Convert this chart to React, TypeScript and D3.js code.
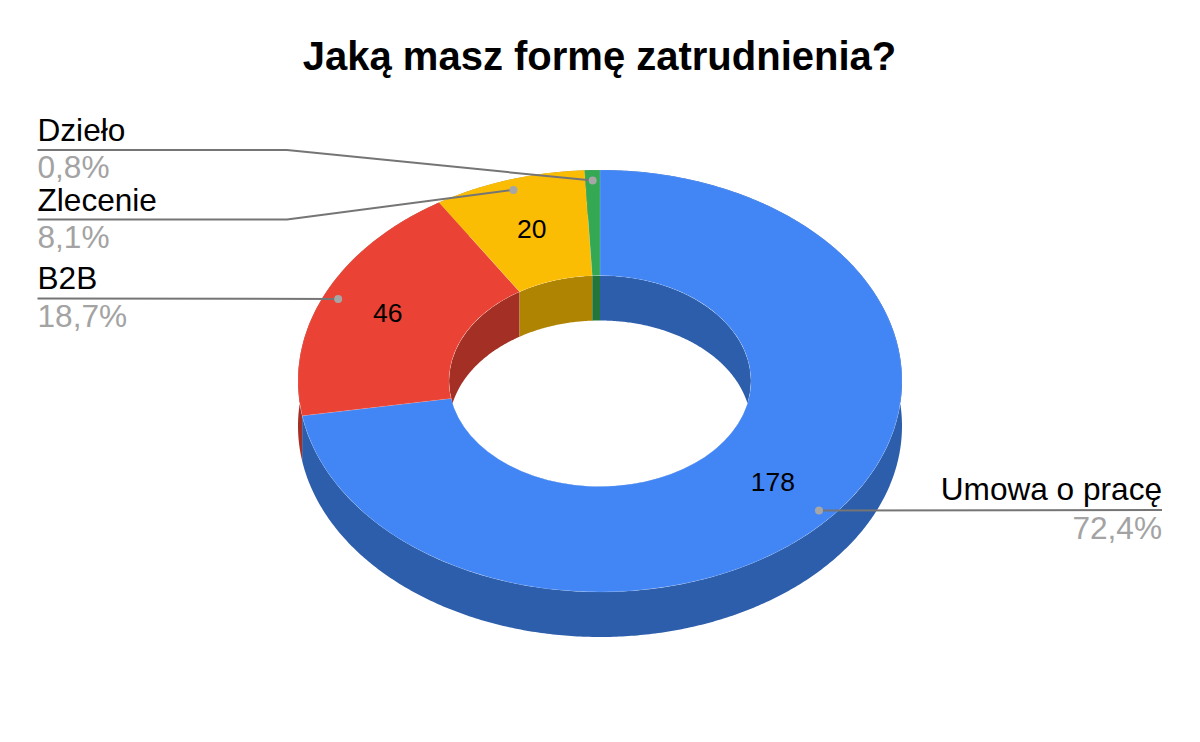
import * as d3 from 'd3'

const categories = ['Umowa o pracę', 'B2B', 'Zlecenie', 'Dzieło']
const counts = [178, 46, 20, 2]
const percentLabels = ['72,4%', '18,7%', '8,1%', '0,8%']
const colors = ['#4285f4', '#ea4335', '#fbbc04', '#34a853']
const darkColors = ['#2d5eab', '#a42f25', '#af8403', '#247539']
const title = 'Jaką masz formę zatrudnienia?'

const width = 1200
const height = 742
const cx = 600
const cy = 381
const rx = 302
const ry = 211
const holeRatio = 0.5
const depth = 45
const font = '"Liberation Sans", Arial, sans-serif'

// label anchors for the callouts, one per slice
const callouts = [
  { side: 'right', textY: 500, lineY: 510, pctY: 539, lineEnd: 1162, elbowX: null, valueR: 0.75 },
  { side: 'left', textY: 288.5, lineY: 298.5, pctY: 327, lineEnd: 37.5, elbowX: null, valueR: 0.77 },
  { side: 'left', textY: 211, lineY: 219.5, pctY: 248, lineEnd: 37.5, elbowX: 287, valueR: 0.75 },
  { side: 'left', textY: 141, lineY: 150, pctY: 178, lineEnd: 37.5, elbowX: 287, valueR: 0.75 },
]

const project = (r: number, a: number, dy = 0): [number, number] => [
  cx + r * rx * Math.sin(a),
  cy - r * ry * Math.cos(a) + dy,
]

// side wall of a slice: the arc on top, then the same arc pushed down by the depth
function wallPath(r: number, a0: number, a1: number) {
  const steps = Math.max(2, Math.ceil((a1 - a0) / 0.01))
  const angles = d3.range(steps + 1).map((i) => a0 + ((a1 - a0) * i) / steps)
  const pts = [
    ...angles.map((a) => project(r, a)),
    ...angles.slice().reverse().map((a) => project(r, a, depth)),
  ]
  return d3.line()(pts) + 'Z'
}

export default function App() {
  const slices = d3.pie<number>().sort(null).value((d) => d)(counts)
  const arc = d3.arc<d3.PieArcDatum<number>>().innerRadius(rx * holeRatio).outerRadius(rx)

  return (
    <svg
      width={width}
      height={height}
      style={{ position: 'absolute', left: 0, top: 0, background: '#fff' }}
      fontFamily={font}
    >
      <defs>
        <clipPath id="hole">
          <ellipse cx={cx} cy={cy} rx={rx * holeRatio} ry={ry * holeRatio} />
        </clipPath>
      </defs>

      <text x={599.5} y={70} textAnchor="middle" fontSize={40} fontWeight="bold" fill="#000">
        {title}
      </text>

      {slices.map((s, i) => (
        <path key={i} d={wallPath(1, s.startAngle, s.endAngle)} fill={darkColors[i]} />
      ))}
      <g clipPath="url(#hole)">
        {slices.map((s, i) => (
          <path key={i} d={wallPath(holeRatio, s.startAngle, s.endAngle)} fill={darkColors[i]} />
        ))}
      </g>
      <g transform={`translate(${cx},${cy}) scale(1,${ry / rx})`}>
        {slices.map((s, i) => (
          <path key={i} d={arc(s) || ''} fill={colors[i]} stroke="#fff" strokeOpacity={0.25} strokeWidth={0.5} />
        ))}
      </g>

      {slices.map((s, i) => {
        if (counts[i] < 5) return null
        const [x, y] = project(callouts[i].valueR, (s.startAngle + s.endAngle) / 2)
        return (
          <text key={i} x={x} y={y + 7.5} textAnchor="middle" fontSize={26.5} fill="#000">
            {counts[i]}
          </text>
        )
      })}

      {slices.map((s, i) => {
        const c = callouts[i]
        const dot = project(0.95, (s.startAngle + s.endAngle) / 2)
        const pts: [number, number][] = [[c.lineEnd, c.lineY]]
        if (c.elbowX !== null) pts.push([c.elbowX, c.lineY])
        pts.push(dot)
        const anchor = c.side === 'right' ? 'end' : 'start'
        return (
          <g key={i}>
            <path d={d3.line()(pts) || ''} fill="none" stroke="#757575" strokeWidth={2} />
            <circle cx={dot[0]} cy={dot[1]} r={4} fill="#a6a6a6" />
            <text x={c.lineEnd} y={c.textY} textAnchor={anchor} fontSize={31.6} fill="#000">
              {categories[i]}
            </text>
            <text x={c.lineEnd} y={c.pctY} textAnchor={anchor} fontSize={31.6} fill="#a3a3a3">
              {percentLabels[i]}
            </text>
          </g>
        )
      })}
    </svg>
  )
}
